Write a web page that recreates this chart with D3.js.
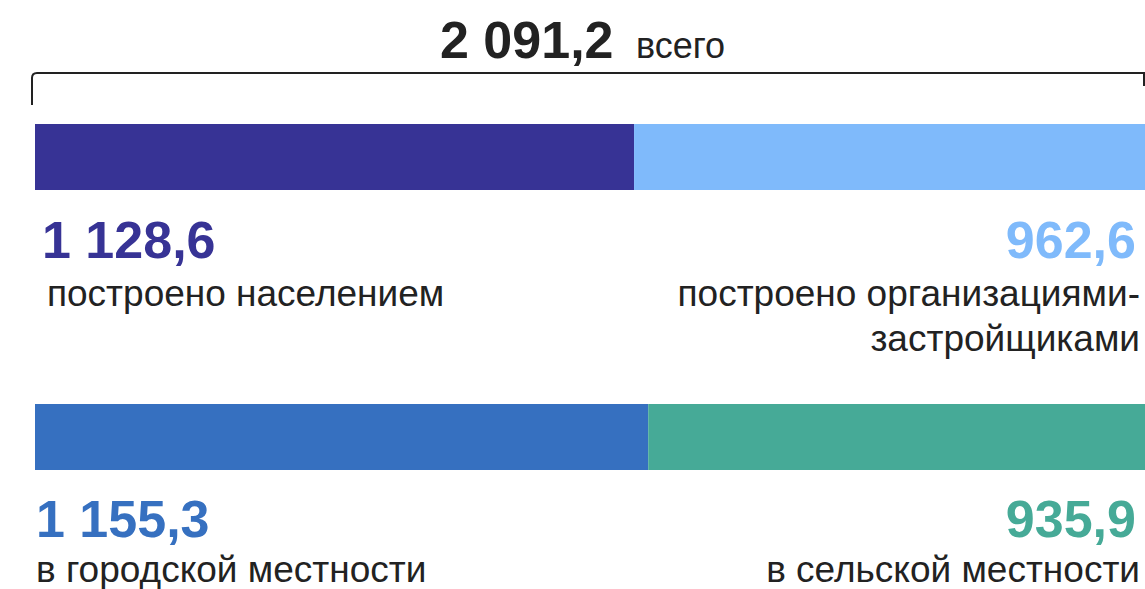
<!DOCTYPE html>
<html><head><meta charset="utf-8">
<script src="https://cdn.jsdelivr.net/npm/d3@7"></script>
<style>html,body{margin:0;padding:0;background:#fff;overflow:hidden}svg{display:block}
text{font-family:"Liberation Sans",Arial,Helvetica,sans-serif}</style>
</head><body>
<script>
const total = 2091.2;
const totalLabel = "2 091,2";
const totalWord = "всего";
const rows = ["builder", "area"];
const leftValues = [1128.6, 1155.3];
const rightValues = [962.6, 935.9];
const leftLabels = ["1 128,6", "1 155,3"];
const rightLabels = ["962,6", "935,9"];
const leftNames = [["построено населением"], ["в городской местности"]];
const rightNames = [["построено организациями-", "застройщиками"], ["в сельской местности"]];
const leftColors = ["#373395", "#3670c0"];
const rightColors = ["#7fbafb", "#46aa97"];

const W = 1145, H = 589;
const ink = "#222222";
const svg = d3.select("body").append("svg").attr("width", W).attr("height", H);

const x = d3.scaleLinear().domain([0, total]).range([35, 1145]);
const yTop = d3.scalePoint().domain(rows).range([124, 404]);
const barH = 66;

// total header
svg.append("text").attr("y", 58).attr("x", 440).attr("fill", ink).text(totalLabel)
  .style("font-weight", "bold").style("font-size", "52px");
svg.append("text").attr("y", 58).attr("x", 636).attr("fill", ink).text(totalWord)
  .style("font-size", "36px");

// bracket
const bx0 = x(0) - 3, bx1 = x(total) - 1;
svg.append("path")
  .attr("d", `M${bx0},105 L${bx0},78 Q${bx0},73 ${bx0+5},73 L${bx1},73 L${bx1},86`)
  .attr("fill", "none").attr("stroke", ink).attr("stroke-width", 2);

rows.forEach((r, i) => {
  const t = yTop(r);
  svg.append("rect").attr("x", x(0)).attr("y", t).attr("width", x(leftValues[i]) - x(0)).attr("height", barH).attr("fill", leftColors[i]);
  svg.append("rect").attr("x", x(leftValues[i])).attr("y", t).attr("width", x(total) - x(leftValues[i])).attr("height", barH).attr("fill", rightColors[i]);

  const vy = t + 134 - (i ? 1 : 0);
  const ly = vy + (i ? 45 : 48);
  svg.append("text").attr("x", i ? 36 : 42).attr("y", vy).text(leftLabels[i])
    .style("font-weight", "bold").style("font-size", "52px").attr("fill", leftColors[i]);
  svg.append("text").attr("x", 1136).attr("y", vy).attr("text-anchor", "end").text(rightLabels[i])
    .style("font-weight", "bold").style("font-size", "52px").attr("fill", rightColors[i]);

  leftNames[i].forEach((s, k) => {
    svg.append("text").attr("x", i ? 36 : 47).attr("y", ly + k * 45).text(s)
      .style("font-size", "37px").attr("fill", ink);
  });
  rightNames[i].forEach((s, k) => {
    svg.append("text").attr("x", 1140).attr("y", ly + k * 45).attr("text-anchor", "end").text(s)
      .style("font-size", "37px").attr("fill", ink);
  });
});
</script>
</body></html>
